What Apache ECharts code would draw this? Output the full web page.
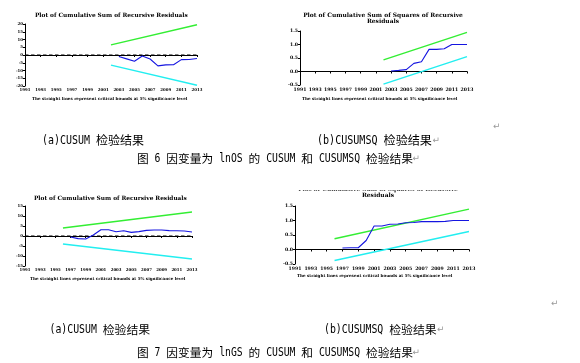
<!DOCTYPE html>
<html><head><meta charset="utf-8">
<script src="https://cdn.jsdelivr.net/npm/echarts@6/dist/echarts.min.js"></script>
<style>html,body{margin:0;padding:0;background:#fff}#c{width:580px;height:363px}</style>
</head><body><div id="c"></div>
<script>
// ---- data ----
const years = ['1991','1992','1993','1994','1995','1996','1997','1998','1999','2000','2001','2002','2003','2004','2005','2006','2007','2008','2009','2010','2011','2012','2013'];

// Fig 6 (a) CUSUM, lnOS
const c6Years = ['2003','2004','2005','2006','2007','2008','2009','2010','2011','2012','2013'];
const c6Values = [-1.0,-2.5,-4.0,-0.7,-2.6,-7.0,-6.4,-6.3,-3.0,-2.9,-2.3];
const c6Upper = [['2002',6.5],['2013',19.5]];
const c6Lower = [['2002',-6.5],['2013',-19.5]];

// Fig 6 (b) CUSUMSQ, lnOS
const q6Years = ['2003','2004','2005','2006','2007','2008','2009','2010','2011','2012','2013'];
const q6Values = [0.02,0.04,0.07,0.30,0.36,0.82,0.82,0.84,1.0,1.0,1.0];
const q6Upper = [['2002',0.43],['2013',1.45]];
const q6Lower = [['2002',-0.47],['2013',0.55]];

// Fig 7 (a) CUSUM, lnGS
const c7Years = ['1997','1998','1999','2000','2001','2002','2003','2004','2005','2006','2007','2008','2009','2010','2011','2012','2013'];
const c7Values = [-0.5,-1.3,-1.5,0.5,3.1,3.1,2.1,2.6,1.8,2.2,2.8,3.0,3.0,2.7,2.6,2.5,2.0];
const c7Upper = [['1996',4],['2013',12]];
const c7Lower = [['1996',-4],['2013',-11.5]];

// Fig 7 (b) CUSUMSQ, lnGS
const q7Years = ['1997','1998','1999','2000','2001','2002','2003','2004','2005','2006','2007','2008','2009','2010','2011','2012','2013'];
const q7Values = [0.05,0.06,0.06,0.31,0.81,0.81,0.87,0.88,0.92,0.93,0.96,0.96,0.96,0.97,1.0,1.0,1.0];
const q7Upper = [['1996',0.37],['2013',1.39]];
const q7Lower = [['1996',-0.38],['2013',0.62]];

const zeroLine = [['1991',0],['2013',0]];

const titleCusum = 'Plot of Cumulative Sum of Recursive Residuals';
const titleSq = 'Plot of Cumulative Sum of Squares of Recursive\nResiduals';
const footnote = 'The straight lines represent critical bounds at 5% significance level';
const cap6a = '(a)CUSUM 检验结果';
const cap6b = '(b)CUSUMSQ 检验结果';
const cap6 = '图 6 因变量为 lnOS 的 CUSUM 和 CUSUMSQ 检验结果';
const cap7a = '(a)CUSUM 检验结果';
const cap7b = '(b)CUSUMSQ 检验结果';
const cap7 = '图 7 因变量为 lnGS 的 CUSUM 和 CUSUMSQ 检验结果';

// ---- chart ----
const chart = echarts.init(document.getElementById('c'));
const tinyFont = {fontFamily:'DejaVu Serif', fontWeight:'bold', color:'#000'};
const grids = [
  {left:25, top:24, width:172, height:62},
  {left:300, top:31, width:167, height:54},
  {left:25, top:206, width:167, height:60},
  {left:295, top:206, width:174, height:58}
];
const yDefs = [
  {min:-20,max:20,interval:5,fmt:v=>String(v)},
  {min:-0.5,max:1.5,interval:0.5,fmt:v=>v.toFixed(1)},
  {min:-15,max:15,interval:5,fmt:v=>String(v)},
  {min:-0.5,max:1.5,interval:0.5,fmt:v=>v.toFixed(1)}
];
const xAxes = grids.map((g,i)=>({
  type:'category', data:years, gridIndex:i, boundaryGap:false,
  axisLine:{lineStyle:{color:'#000',width:1}},
  axisTick:{interval:1,length:2,lineStyle:{color:'#000'}},
  axisLabel:{interval:1, margin:2, fontSize:i%2?4.6:3.9, ...tinyFont},
  splitLine:{show:false}
}));
const yAxes = yDefs.map((d,i)=>({
  type:'value', gridIndex:i, min:d.min, max:d.max, interval:d.interval,
  axisLine:{show:true,lineStyle:{color:'#000',width:1}},
  axisTick:{show:true,length:2,lineStyle:{color:'#000'}},
  axisLabel:{margin:2, fontSize:i%2?4.6:3.9, formatter:d.fmt, ...tinyFont},
  splitLine:{show:false}
}));
function pair(ys, vs){ return ys.map((y,k)=>[y,vs[k]]); }
function lines(i, up, lo, ys, vs){
  return [
    {type:'line',xAxisIndex:i,yAxisIndex:i,data:zeroLine,symbol:'none',silent:true,lineStyle:{color:'#000',width:1.1,type:[3.5,2.5]}},
    {type:'line',xAxisIndex:i,yAxisIndex:i,data:up,symbol:'none',lineStyle:{color:'#33ee33',width:1.4}},
    {type:'line',xAxisIndex:i,yAxisIndex:i,data:lo,symbol:'none',lineStyle:{color:'#22eef0',width:1.4}},
    {type:'line',xAxisIndex:i,yAxisIndex:i,data:pair(ys,vs),symbol:'none',lineStyle:{color:'#1515e0',width:1.1}}
  ];
}
const series = [].concat(
  lines(0,c6Upper,c6Lower,c6Years,c6Values),
  lines(1,q6Upper,q6Lower,q6Years,q6Values),
  lines(2,c7Upper,c7Lower,c7Years,c7Values),
  lines(3,q7Upper,q7Lower,q7Years,q7Values)
);
const tStyle = (fs,lh)=>({fontSize:fs, fontFamily:'DejaVu Serif', fontWeight:'bold', color:'#000', lineHeight:lh||fs+1});
const titles = [
  {text:titleCusum, left:35, top:12, padding:0, textStyle:tStyle(5.8)},
  {text:titleSq, left:383, textAlign:'center', top:12.5, padding:0, textStyle:tStyle(5.95,6.3)},
  {text:titleCusum, left:34, top:194.8, padding:0, textStyle:tStyle(5.8)},
  {text:titleSq, left:378, textAlign:'center', top:186.3, padding:0, textStyle:tStyle(5.95,6.3)},
  {text:footnote, left:32, top:96.3, padding:0, textStyle:tStyle(4.1)},
  {text:footnote, left:302, top:96.7, padding:0, textStyle:tStyle(4.1)},
  {text:footnote, left:30, top:276.7, padding:0, textStyle:tStyle(4.1)},
  {text:footnote, left:297, top:273, padding:0, textStyle:tStyle(4.1)}
];
// caption: half-width runs in a condensed mono, CJK runs full-width
function caption(text, x, cy, unit){
  const kids = [];
  let off = 0, run = '', runC = null, start = 0;
  const flush = ()=>{
    if(!run) return;
    if(runC){
      kids.push({type:'text', x:x+start, y:cy, style:{text:run, font:(unit*2)+"px 'Noto Sans CJK SC'", fill:'#000', textVerticalAlign:'middle'}});
    } else {
      const fs = 13, sx = unit/(fs*0.602);
      kids.push({type:'text', x:x+start, y:cy, scaleX:sx, style:{text:run, font:fs+"px 'DejaVu Sans Mono'", fill:'#000', textVerticalAlign:'middle'}});
    }
    run='';
  };
  for(const ch of text){
    const isC = ch.charCodeAt(0) > 0x2E80;
    if(isC !== runC){ flush(); runC = isC; start = off; }
    run += ch; off += isC ? unit*2 : unit;
  }
  flush();
  return kids;
}
const ret = (x,y)=>({type:'text', x:x, y:y, style:{text:'↵', font:"9px 'DejaVu Sans'", fill:'#999', textVerticalAlign:'middle'}});
const graphic = [].concat(
  // the lower-right picture is cropped at its top edge in the document
  [{type:'rect', shape:{x:285, y:175, width:190, height:15.3}, style:{fill:'#fff'}, z:100, silent:true}],
  caption(cap6a, 42, 140.5, 6),
  caption(cap6b, 317, 140.5, 6.05),
  caption(cap6, 137, 158.5, 5.87),
  caption(cap7a, 49.5, 329.5, 5.92),
  caption(cap7b, 324, 329.5, 5.93),
  caption(cap7, 137, 352.5, 5.87),
  [ret(493,126.5), ret(432.5,141), ret(412.5,159), ret(551,304), ret(437,330), ret(412.5,353)]
);
chart.setOption({
  animation:false,
  title:titles,
  grid:grids,
  xAxis:xAxes, yAxis:yAxes, series:series, graphic:graphic
});
</script></body></html>
